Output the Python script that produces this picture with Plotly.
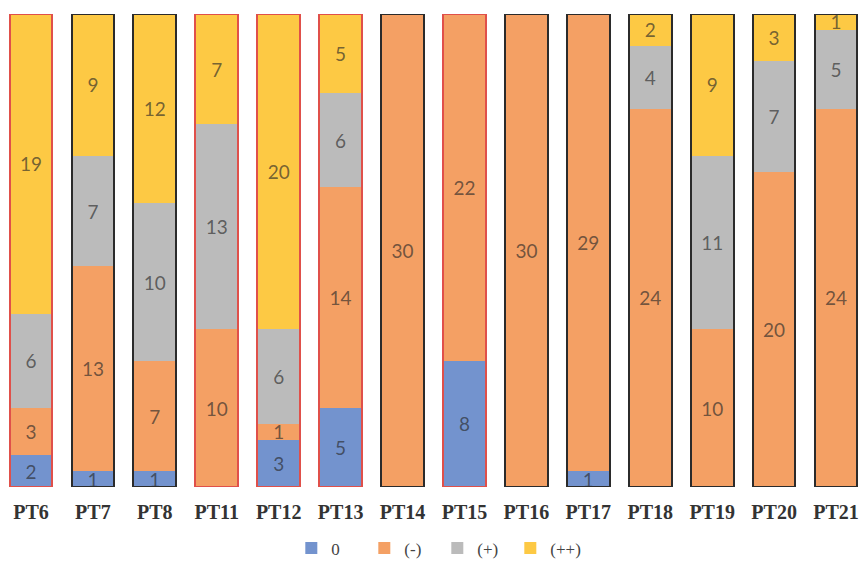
import plotly.graph_objects as go

categories = ["PT6", "PT7", "PT8", "PT11", "PT12", "PT13", "PT14",
              "PT15", "PT16", "PT17", "PT18", "PT19", "PT20", "PT21"]
s_zero = [2, 1, 1, 0, 3, 5, 0, 8, 0, 1, 0, 0, 0, 0]
s_minus = [3, 13, 7, 10, 1, 14, 30, 22, 30, 29, 24, 10, 20, 24]
s_plus = [6, 7, 10, 13, 6, 6, 0, 0, 0, 0, 4, 11, 7, 5]
s_pp = [19, 9, 12, 7, 20, 5, 0, 0, 0, 0, 2, 9, 3, 1]
outline_kind = ["red", "black", "black", "red", "red", "red", "black",
                "red", "black", "black", "black", "black", "black", "black"]

series = [
    ("0", s_zero, "#7393CE"),
    ("(-)", s_minus, "#F4A064"),
    ("(+)", s_plus, "#BBBBBB"),
    ("(++)", s_pp, "#FDC944"),
]

SERIF = "Liberation Serif, DejaVu Serif, serif"

fig = go.Figure()
for name, vals, col in series:
    fig.add_trace(go.Bar(
        x=categories, y=vals, name=name,
        marker=dict(color=col, line=dict(width=0)),
        text=[str(v) if v else "" for v in vals],
        textposition="inside", insidetextanchor="middle",
        constraintext="none", textangle=0,
        textfont=dict(family="Lato", size=19, color="rgba(40,40,40,0.65)"),
        hoverinfo="skip",
    ))

totals = [a + b + c + d for a, b, c, d in zip(s_zero, s_minus, s_plus, s_pp)]
line_colors = ["#E0504A" if k == "red" else "#2B2B2B" for k in outline_kind]
fig.add_trace(go.Bar(
    x=categories, y=totals, xaxis="x2", showlegend=False,
    marker=dict(color="rgba(0,0,0,0)", line=dict(color=line_colors, width=2)),
    hoverinfo="skip",
))

fig.update_layout(
    width=867, height=569,
    margin=dict(l=0, r=0, t=14, b=82, autoexpand=False),
    paper_bgcolor="white", plot_bgcolor="white",
    barmode="stack", bargap=0.31,
    font=dict(family=SERIF),
    xaxis=dict(range=[-0.5, 13.5], showgrid=False, showline=False, zeroline=False,
               ticks="", ticklabelstandoff=11, automargin=False,
               tickfont=dict(family=SERIF, size=20, color="#333333", weight="bold")),
    xaxis2=dict(range=[-0.5, 13.5], overlaying="x", visible=False),
    yaxis=dict(range=[0, 30], visible=False, automargin=False),
    legend=dict(orientation="h", x=0.336, xanchor="left", y=-0.13, yanchor="middle",
                font=dict(family=SERIF, size=17, color="#444444"),
                traceorder="normal", entrywidth=28, entrywidthmode="pixels"),
    showlegend=True,
)

fig.write_html("out.html", config={"displayModeBar": False},
               post_script="document.body.style.margin='0';")
